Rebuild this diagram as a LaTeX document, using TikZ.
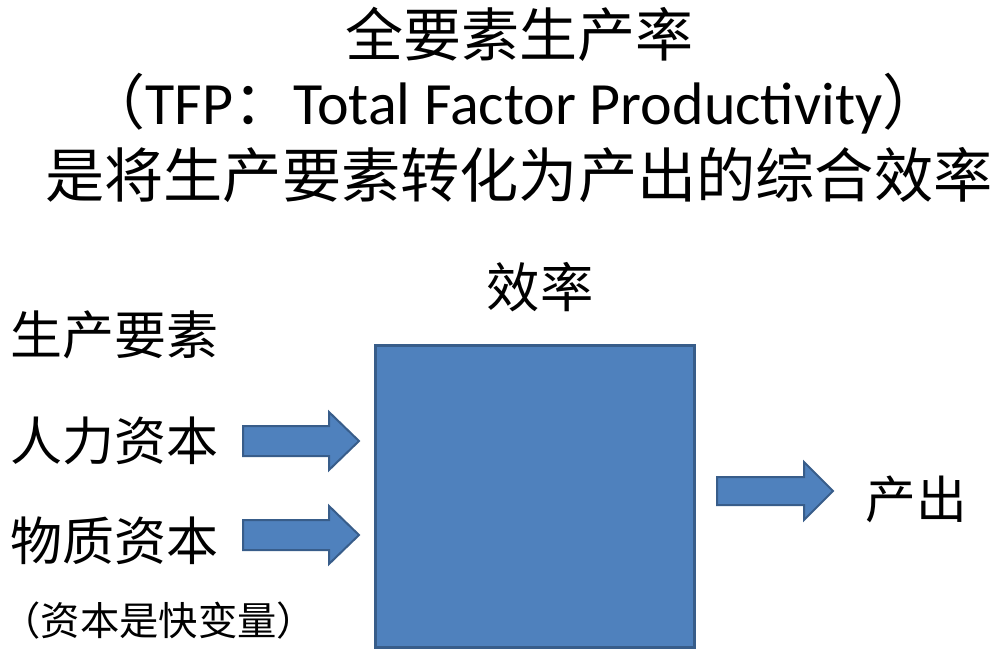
\documentclass[tikz,border=0pt]{standalone}
\usepackage{fontspec}
\setmainfont{Carlito}
\newfontfamily\cjk{Noto Sans CJK SC}

\tikzset{every picture/.style={line width=0.75pt}}
\definecolor{boxfill}{RGB}{79,129,189}
\definecolor{boxline}{RGB}{56,93,138}

\begin{document}
\begin{tikzpicture}[x=0.75pt,y=0.75pt,yscale=-1,xscale=1]
\useasboundingbox (0,0) rectangle (996,654); %set diagram left start at 0, and has height of 654

%Shape: Rectangle [id:efficiency box]
\draw [color=boxline ,draw opacity=1 ][fill=boxfill ,fill opacity=1 ][line width=2.25]  (375,345) -- (694,345) -- (694,647) -- (375,647) -- cycle ;
%Shape: Right Arrow [id:human capital]
\draw [color=boxline ,draw opacity=1 ][fill=boxfill ,fill opacity=1 ][line width=1.5]  (243,426) -- (329,426) -- (329,412) -- (359,441) -- (329,470) -- (329,456) -- (243,456) -- cycle ;
%Shape: Right Arrow [id:physical capital]
\draw [color=boxline ,draw opacity=1 ][fill=boxfill ,fill opacity=1 ][line width=1.5]  (243,520) -- (329,520) -- (329,506) -- (359,535) -- (329,564) -- (329,550) -- (243,550) -- cycle ;
%Shape: Right Arrow [id:output]
\draw [color=boxline ,draw opacity=1 ][fill=boxfill ,fill opacity=1 ][line width=1.5]  (717,477) -- (804,477) -- (804,462) -- (833,491) -- (804,520) -- (804,505) -- (717,505) -- cycle ;

% Text Node
\draw (519,34) node (title) [inner sep=0pt] [font=\fontsize{43.5}{48}\cjk] {全要素生产率};
% Text Node
\draw (514,104) node (tfp) [inner sep=0pt] [font=\fontsize{45}{50}\selectfont] {{\cjk （}TFP{\cjk ：}Total Factor Productivity{\cjk ）}};
% Text Node
\draw (519,175) node (subtitle) [inner sep=0pt] [font=\fontsize{44.4}{48}\cjk] {是将生产要素转化为产出的综合效率};
% Text Node
\draw (540,287) node (eff) [inner sep=0pt] [font=\fontsize{40}{44}\cjk] {效率};
% Text Node
\draw (10,335) node (factors) [anchor=west][inner sep=0pt] [font=\fontsize{39}{44}\cjk] {生产要素};
% Text Node
\draw (10,441) node (human) [anchor=west][inner sep=0pt] [font=\fontsize{39}{44}\cjk] {人力资本};
% Text Node
\draw (10,541) node (physical) [anchor=west][inner sep=0pt] [font=\fontsize{39}{44}\cjk] {物质资本};
% Text Node
\draw (1,621) node (note) [anchor=west][inner sep=0pt] [font=\fontsize{29.5}{33}\cjk] {（资本是快变量）};
% Text Node
\draw (865,499) node (out) [anchor=west][inner sep=0pt] [font=\fontsize{38}{42}\cjk] {产出};

\end{tikzpicture}
\end{document}
